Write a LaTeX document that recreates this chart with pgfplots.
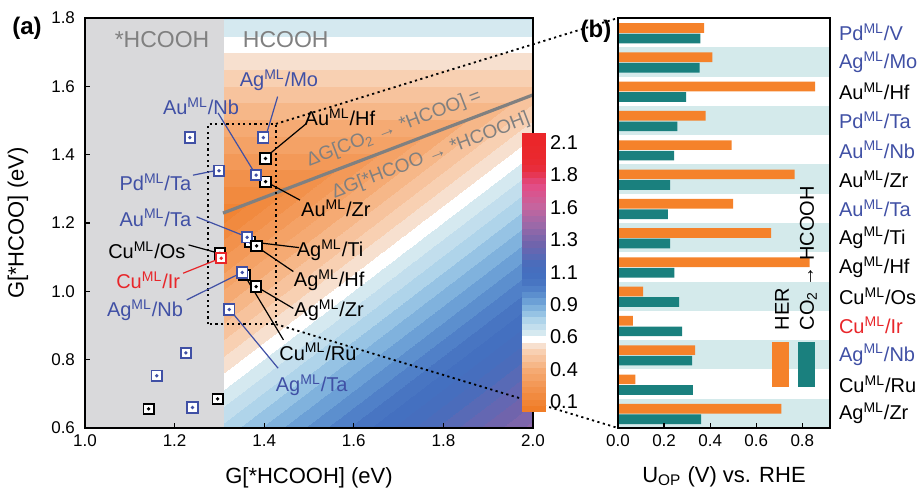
\documentclass[border=0pt]{standalone}
\usepackage{fontspec}
\setmainfont{Liberation Sans}
\usepackage{pgfplots}
\pgfplotsset{compat=1.18}
\usepackage{pgfplotstable}
\definecolor{mlblue}{RGB}{64,80,165}
\definecolor{mlred}{RGB}{232,38,42}
\definecolor{herorange}{RGB}{245,130,42}
\definecolor{coteal}{RGB}{26,128,126}
\definecolor{bandteal}{RGB}{212,234,235}
\definecolor{grayreg}{RGB}{217,217,219}
\definecolor{txtgray}{RGB}{128,128,128}
\newcommand\ml[2]{#1\textsuperscript{ML}/#2}
\newcommand\lab{\fontsize{10}{12}\selectfont}
\newcommand\tck{\fontsize{8.5}{10}\selectfont}
\pgfdeclareplotmark{sqdot}{%
  \pgfpathrectangle{\pgfqpoint{-\pgfplotmarksize}{-\pgfplotmarksize}}{\pgfqpoint{2\pgfplotmarksize}{2\pgfplotmarksize}}%
  \pgfusepathqfillstroke
  \pgfpathcircle{\pgfpointorigin}{0.3pt}%
  \pgfusepathqstroke
}
\pgfplotsset{colormap={bands}{
rgb255=(240,125,40) rgb255=(241,132,52) rgb255=(241,138,63) rgb255=(242,145,75)
rgb255=(243,153,88) rgb255=(244,162,102) rgb255=(245,170,115) rgb255=(246,183,136)
rgb255=(247,195,157) rgb255=(248,208,178) rgb255=(247,224,207) rgb255=(255,255,255)
rgb255=(213,233,240) rgb255=(194,222,237) rgb255=(175,212,234) rgb255=(150,195,228)
rgb255=(128,178,221) rgb255=(108,160,214) rgb255=(92,143,206) rgb255=(80,128,200)
rgb255=(72,117,194) rgb255=(68,112,192) rgb255=(70,110,190) rgb255=(75,108,187)
rgb255=(88,106,182) rgb255=(100,103,178) rgb255=(112,100,172) rgb255=(125,102,171)
rgb255=(140,103,169) rgb255=(155,105,168) rgb255=(169,103,165) rgb255=(184,102,161)
rgb255=(198,100,158) rgb255=(207,93,150) rgb255=(216,85,143) rgb255=(225,78,135)
rgb255=(227,68,115) rgb255=(230,55,85) rgb255=(232,45,60) rgb255=(233,42,50)
rgb255=(234,40,46) rgb255=(234,40,44) rgb255=(235,38,42) rgb255=(235,38,42)
}}
\pgfplotstableread{
x y
1.142 0.656
1.296 0.685
1.301 1.111
1.403 1.389
1.403 1.321
1.368 1.145
1.356 1.048
}\blackA
\pgfplotstableread{
x y
1.383 1.133
1.382 1.014
}\blackB
\pgfplotstableread{
x y
1.234 1.450
1.398 1.450
1.299 1.353
1.382 1.340
1.362 1.158
1.351 1.055
1.322 0.947
1.225 0.820
1.160 0.753
1.240 0.660
}\bluepts
\pgfplotstableread{
x y
1.304 1.097
}\redpts
\pgfplotstableread{
idx her co
0 0.709 0.361
1 0.075 0.325
2 0.335 0.322
3 0.064 0.278
4 0.109 0.265
5 0.832 0.245
6 0.664 0.226
7 0.500 0.216
8 0.767 0.226
9 0.493 0.243
10 0.380 0.258
11 0.855 0.296
12 0.410 0.354
13 0.374 0.357
}\bdata
\begin{document}
\begin{tikzpicture}
\coordinate (bNW) at (266.5pt,205pt);
\coordinate (bSW) at (266.5pt,0pt);
\tikzset{dotl/.style={black, line width=0.9pt, dash pattern=on 1.1pt off 1.7pt}}
\begin{axis}[
  name=a, at={(0,0)}, anchor=south west,
  scale only axis, width=224pt, height=205pt,
  xmin=1, xmax=2, ymin=0.6, ymax=1.8,
  xtick={1,1.2,1.4,1.6,1.8,2}, ytick={0.6,0.8,1,1.2,1.4,1.6,1.8},
  /pgf/number format/.cd, fixed, fixed zerofill, precision=1, assume math mode=true, /pgfplots/.cd,
  tick align=inside, xtick pos=left, ytick pos=left,
  major tick length=2.5pt,
  tick style={black, line width=0.6pt},
  axis line style={line width=0.7pt},
  ticklabel style={font=\tck},
  yticklabel style={xshift=-1.5pt},
  xlabel={G[*HCOOH] (eV)}, ylabel={G[*HCOO] (eV)},
  label style={font=\fontsize{11}{13}\selectfont},
  xlabel style={at={(axis description cs:0.5,-0.122)}, anchor=center},
  ylabel style={at={(axis description cs:-0.1496,0.5)}, anchor=center},
  colormap name=bands, colormap access=piecewise constant,
  point meta min=0.025, point meta max=2.175,
  colorbar,
  colorbar shift/.style={xshift=-5.65pt, yshift=-57.35pt},
  colorbar style={
    at={(parent axis.north east)}, anchor=north west,
    scale only axis, width=11.65pt, height=139.5pt,
    colormap access=piecewise constant,
    ytick={0.1,0.35,0.6,0.85,1.1,1.35,1.6,1.85,2.1},
    yticklabels={0.1,0.4,0.6,0.9,1.1,1.3,1.6,1.8,2.1},
    yticklabel style={font=\lab, xshift=-1pt},
    ytick style={draw=none},
    axis line style={draw=none},
  },
  clip=false, axis on top,
]
\addplot[fill=grayreg, draw=none] coordinates {(1,0.6) (1.31,0.6) (1.31,1.8) (1,1.8)} -- cycle;
\addplot[surf, shader=interp, point meta=explicit, mesh/cols=2] table[x=x, y=y, meta=v] {
x y v
1.31 0.6 0.724
2.0 0.6 1.414

1.31 1.23 0.094
2.0 1.575 0.439

1.31 1.8 0.664
2.0 1.8 0.664
};
\addplot[txtgray, line width=1.6pt] coordinates {(1.308,1.229) (2.0,1.575)};
\node[text=txtgray, font=\fontsize{11.5}{13}\selectfont] at (axis cs:1.172,1.736) {*HCOOH};
\node[text=txtgray, font=\fontsize{11.5}{13}\selectfont] at (axis cs:1.448,1.736) {HCOOH};
\node[text=txtgray, rotate=21, font=\fontsize{9.5}{11}\selectfont] at (axis cs:1.69,1.476) {ΔG[CO\textsubscript{2} → *HCOO] =};
\node[text=txtgray, rotate=21, font=\fontsize{9.5}{11}\selectfont] at (axis cs:1.772,1.396) {ΔG[*HCOO → *HCOOH]};
% dotted box and connectors
\draw[dotl] (axis cs:1.275,0.904) rectangle (axis cs:1.426,1.49);
\draw[dotl] (axis cs:1.426,1.49) -- (bNW);
\draw[dotl] (axis cs:1.426,0.904) -- (bSW);
% leader lines
\draw[mlblue, line width=0.6pt] (axis cs:1.43,1.57) -- (axis cs:1.405,1.46);
\draw[mlblue, line width=0.6pt] (axis cs:1.297,1.522) -- (axis cs:1.379,1.346);
\draw[black, line width=0.6pt] (axis cs:1.495,1.492) -- (axis cs:1.41,1.40);
\draw[mlblue, line width=0.6pt] (axis cs:1.241,1.34) -- (axis cs:1.29,1.353);
\draw[black, line width=0.6pt] (axis cs:1.48,1.267) -- (axis cs:1.405,1.32);
\draw[mlblue, line width=0.6pt] (axis cs:1.249,1.218) -- (axis cs:1.36,1.16);
\draw[black, line width=0.6pt] (axis cs:1.37,1.145) -- (axis cs:1.478,1.128);
\draw[black, line width=0.6pt] (axis cs:1.383,1.131) -- (axis cs:1.465,1.058);
\draw[black, line width=0.6pt] (axis cs:1.385,1.012) -- (axis cs:1.465,0.95);
\draw[black, line width=0.6pt] (axis cs:1.443,0.858) -- (axis cs:1.357,1.045);
\draw[mlblue, line width=0.6pt] (axis cs:1.324,0.945) -- (axis cs:1.431,0.775);
\draw[black, line width=0.6pt] (axis cs:1.231,1.136) -- (axis cs:1.30,1.111);
\draw[mlred, line width=0.6pt] (axis cs:1.219,1.053) -- (axis cs:1.303,1.097);
\draw[mlblue, line width=0.6pt] (axis cs:1.227,0.975) -- (axis cs:1.35,1.055);
% markers
\addplot[only marks, mark=sqdot, mark size=2.6pt, mark options={draw=black, fill=white, line width=0.9pt}] table[x=x,y=y] {\blackA};
\addplot[only marks, mark=sqdot, mark size=2.6pt, mark options={draw=mlblue, fill=white, line width=0.9pt}] table[x=x,y=y] {\bluepts};
\addplot[only marks, mark=sqdot, mark size=2.6pt, mark options={draw=black, fill=white, line width=0.9pt}] table[x=x,y=y] {\blackB};
\addplot[only marks, mark=sqdot, mark size=2.6pt, mark options={draw=mlred, fill=white, line width=0.9pt}] table[x=x,y=y] {\redpts};
% labels
\node[text=mlblue, font=\lab] at (axis cs:1.433,1.618) {\ml{Ag}{Mo}};
\node[text=mlblue, font=\lab] at (axis cs:1.259,1.542) {\ml{Au}{Nb}};
\node[text=black, font=\lab] at (axis cs:1.569,1.51) {\ml{Au}{Hf}};
\node[text=mlblue, font=\lab] at (axis cs:1.157,1.32) {\ml{Pd}{Ta}};
\node[text=black, font=\lab] at (axis cs:1.56,1.244) {\ml{Au}{Zr}};
\node[text=mlblue, font=\lab] at (axis cs:1.157,1.215) {\ml{Au}{Ta}};
\node[text=black, font=\lab] at (axis cs:1.547,1.121) {\ml{Ag}{Ti}};
\node[text=black, font=\lab] at (axis cs:1.545,1.033) {\ml{Ag}{Hf}};
\node[text=black, font=\lab] at (axis cs:1.545,0.945) {\ml{Ag}{Zr}};
\node[text=black, font=\lab] at (axis cs:1.52,0.823) {\ml{Cu}{Ru}};
\node[text=mlblue, font=\lab] at (axis cs:1.506,0.726) {\ml{Ag}{Ta}};
\node[text=black, font=\lab] at (axis cs:1.138,1.121) {\ml{Cu}{Os}};
\node[text=mlred, font=\lab] at (axis cs:1.141,1.033) {\ml{Cu}{Ir}};
\node[text=mlblue, font=\lab] at (axis cs:1.134,0.945) {\ml{Ag}{Nb}};
\end{axis}
\node[font=\bfseries\fontsize{12}{14}\selectfont] at (-29pt,200pt) {(a)};
\begin{axis}[
  name=b, at={(266.5pt,0)}, anchor=south west,
  scale only axis, width=106pt, height=205pt,
  xmin=0, xmax=0.92, ymin=-0.5, ymax=13.5,
  xtick={0,0.2,0.4,0.6,0.8},
  /pgf/number format/.cd, fixed, fixed zerofill, precision=1, assume math mode=true, /pgfplots/.cd,
  ytick={0,...,13},
  yticklabels={
    {\ml{Ag}{Zr}},{\ml{Cu}{Ru}},{\textcolor{mlblue}{\ml{Ag}{Nb}}},{\textcolor{mlred}{\ml{Cu}{Ir}}},
    {\ml{Cu}{Os}},{\ml{Ag}{Hf}},{\ml{Ag}{Ti}},{\textcolor{mlblue}{\ml{Au}{Ta}}},
    {\ml{Au}{Zr}},{\textcolor{mlblue}{\ml{Au}{Nb}}},{\textcolor{mlblue}{\ml{Pd}{Ta}}},{\ml{Au}{Hf}},
    {\textcolor{mlblue}{\ml{Ag}{Mo}}},{\textcolor{mlblue}{\ml{Pd}{V}}}},
  yticklabel pos=right,
  ytick style={draw=none},
  tick align=inside, xtick pos=left,
  major tick length=2.5pt,
  tick style={black, line width=0.6pt},
  axis line style={line width=0.7pt},
  xticklabel style={font=\tck},
  yticklabel style={font=\lab, xshift=1pt},
  xlabel={U\textsubscript{OP} (V) vs. RHE},
  xlabel style={font=\fontsize{11}{13}\selectfont, at={(axis description cs:0.5,-0.119)}, anchor=center},
  axis on top,
]
\pgfplotsinvokeforeach{0,2,4,6,8,10,12}{
  \fill[bandteal] (axis cs:0,{#1-0.5}) rectangle (axis cs:0.92,{#1+0.5});
}
\addplot[xbar, bar width=0.33, bar shift=0.16, fill=herorange, draw=none] table[x=her, y=idx] {\bdata};
\addplot[xbar, bar width=0.33, bar shift=-0.2, fill=coteal, draw=none] table[x=co, y=idx] {\bdata};
\fill[herorange] (axis cs:0.668,0.91) rectangle (axis cs:0.74,2.42);
\fill[coteal] (axis cs:0.781,0.91) rectangle (axis cs:0.853,2.42);
\node[rotate=90, anchor=west, inner sep=0pt, font=\lab] at (axis cs:0.712,2.82) {HER};
\node[rotate=90, anchor=west, inner sep=0pt, font=\lab] at (axis cs:0.826,2.82) {CO\textsubscript{2} → HCOOH};
\end{axis}
\node[font=\bfseries\fontsize{12}{14}\selectfont] at (255.5pt,198.5pt) {(b)};
\pgfresetboundingbox
\useasboundingbox (-42.5pt,-33pt) rectangle (417pt,214pt);
\end{tikzpicture}
\end{document}
